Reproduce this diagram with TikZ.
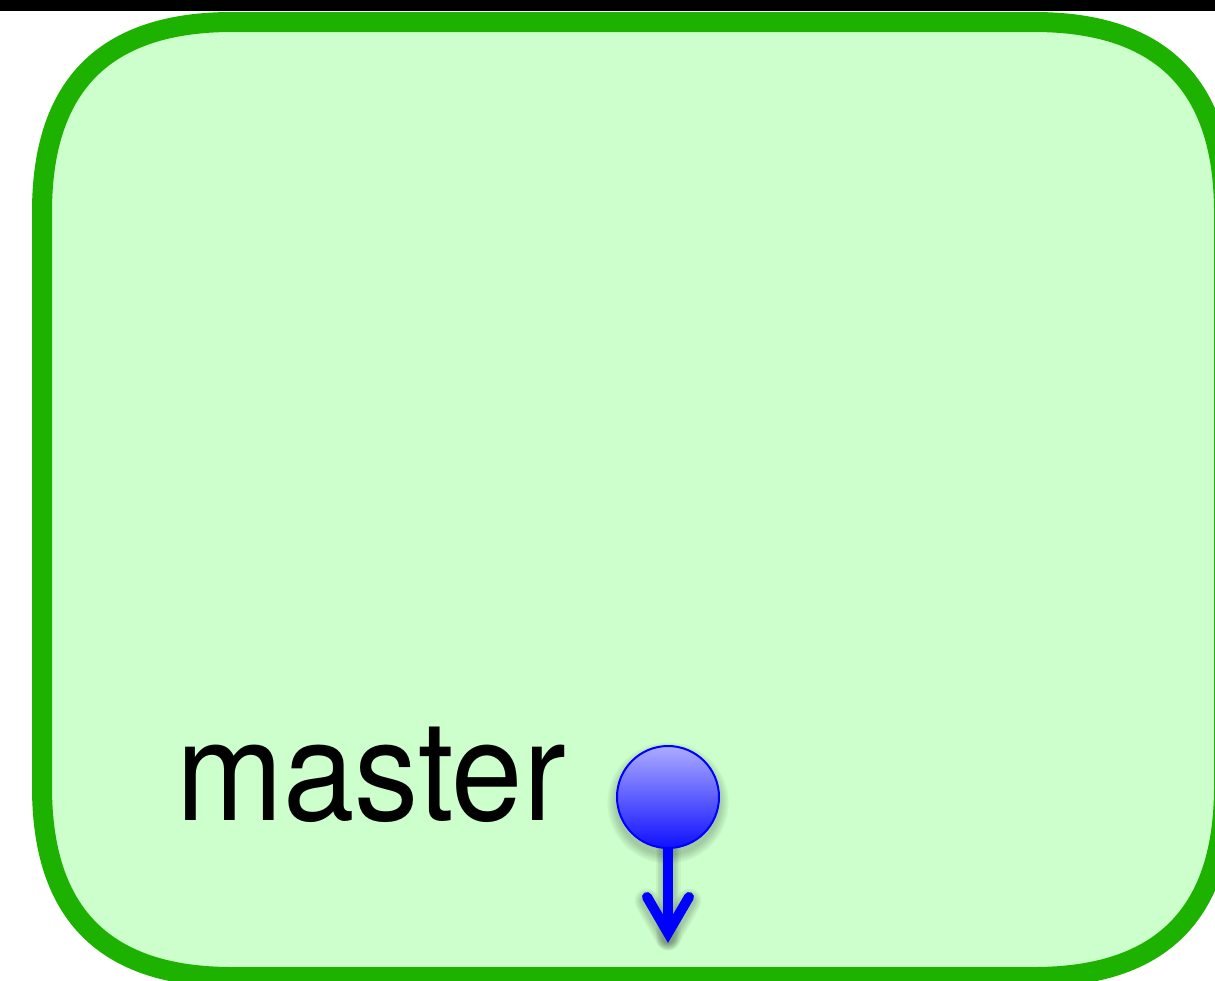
\documentclass[tikz,border=0pt]{standalone}
\usepackage{fontspec}
\setmainfont{TeX Gyre Heros}
\definecolor{gborder}{RGB}{29,177,0}
\definecolor{gfill}{RGB}{204,255,204}
\definecolor{ctop}{RGB}{172,172,255}
\definecolor{cbot}{RGB}{16,16,255}
\tikzset{
  frame/.style={draw=gborder, line width=20pt, fill=gfill},
  commit/.style={circle, minimum size=102pt, inner sep=0pt, draw=blue, line width=2pt, top color=ctop, bottom color=cbot},
  conn/.style={draw=blue, line width=10pt},
  head/.style={draw=blue, line width=10pt, line cap=round, miter limit=10},
  shade/.style={black, opacity=0.035},
  label/.style={anchor=base west, inner sep=0pt, font=\fontsize{140}{140}\selectfont}
}
\begin{document}
\begin{tikzpicture}[x=1pt,y=-1pt]
\useasboundingbox (0,0) rectangle (1215,980);
\clip (0,0) rectangle (1215,980);
\fill[black] (0,0) rectangle (1215,11);
\path[frame] (42,212) -- (42,787)
  .. controls (42,914) and (105,977) .. (232,977)
  -- (1034,977)
  .. controls (1161,977) and (1224,914) .. (1224,787)
  -- (1224,212)
  .. controls (1224,85) and (1161,22) .. (1034,22)
  -- (232,22)
  .. controls (105,22) and (42,85) .. (42,212) -- cycle;
% soft shadows
\foreach \i in {1,...,6} {
  \fill[shade] (668,803) circle ({51+1.6*\i});
  \draw[shade, line width={10+2.5*\i}, line cap=round] (668,850) -- (668,938);
  \draw[shade, line width={10+2.5*\i}, line cap=round, line join=round] (647,901) -- (668,938) -- (689,901);
}
\node[label] (lbl) at (176,820) {\scalebox{0.917}[1]{master}};
\node[commit] (m) at (668,797) {};
\coordinate (tip) at (668,933);
\coordinate (bl) at (647,897);
\coordinate (br) at (689,897);
\draw[conn] (m.south) -- (tip);
\draw[head] (bl) -- (tip) -- (br);
\end{tikzpicture}
\end{document}
